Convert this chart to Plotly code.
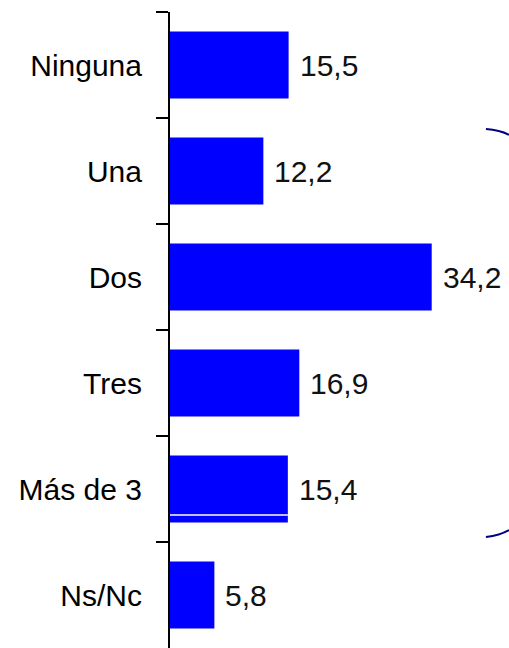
import plotly.graph_objects as go

categories = ["Ninguna", "Una", "Dos", "Tres", "Más de 3", "Ns/Nc"]
values = [15.5, 12.2, 34.2, 16.9, 15.4, 5.8]
value_labels = ["15,5", "12,2", "34,2", "16,9", "15,4", "5,8"]

FONT = "Liberation Sans, Arial, sans-serif"

fig = go.Figure()
fig.add_trace(go.Bar(
    x=values, y=categories, orientation="h",
    marker=dict(color="#0000FF", line=dict(width=0)),
    hoverinfo="skip",
))

for c, v, t in zip(categories, values, value_labels):
    fig.add_annotation(
        x=v, y=c, xref="x", yref="y", text=t, showarrow=False,
        xanchor="left", yanchor="middle", xshift=9,
        font=dict(family=FONT, size=30, color="#111111"),
    )

# white separator line inside "Más de 3" bar
idx = categories.index("Más de 3")
fig.add_shape(type="line", xref="x", yref="y",
              x0=0, x1=values[idx], y0=idx + 0.245, y1=idx + 0.245,
              line=dict(color="white", width=1.5))

# bracket arcs on the right
fig.add_shape(type="path", xref="paper", yref="paper",
              path="M 0.932 0.816 Q 0.974 0.814 1.0 0.807",
              line=dict(color="#000080", width=2))
fig.add_shape(type="path", xref="paper", yref="paper",
              path="M 0.932 0.1745 Q 0.974 0.1777 1.0 0.1855",
              line=dict(color="#000080", width=2))

fig.update_layout(
    width=509, height=648,
    margin=dict(l=170, r=0, t=12, b=0),
    paper_bgcolor="white", plot_bgcolor="white",
    bargap=0.37,
    showlegend=False,
    xaxis=dict(visible=False, range=[0, 44.3]),
    yaxis=dict(
        type="category", categoryorder="array", categoryarray=categories,
        autorange="reversed",
        showline=True, linecolor="black", linewidth=2,
        ticks="outside", tickson="boundaries", ticklen=12, tickwidth=2, tickcolor="black",
        ticklabelstandoff=20,
        showgrid=False, zeroline=False,
        tickfont=dict(family=FONT, size=30, color="black"),
    ),
)

fig.write_html(
    "out.html",
    config={"displayModeBar": False, "staticPlot": True},
    post_script="document.body.style.margin='0';document.body.style.padding='0';"
                "document.body.style.overflow='hidden';",
)
